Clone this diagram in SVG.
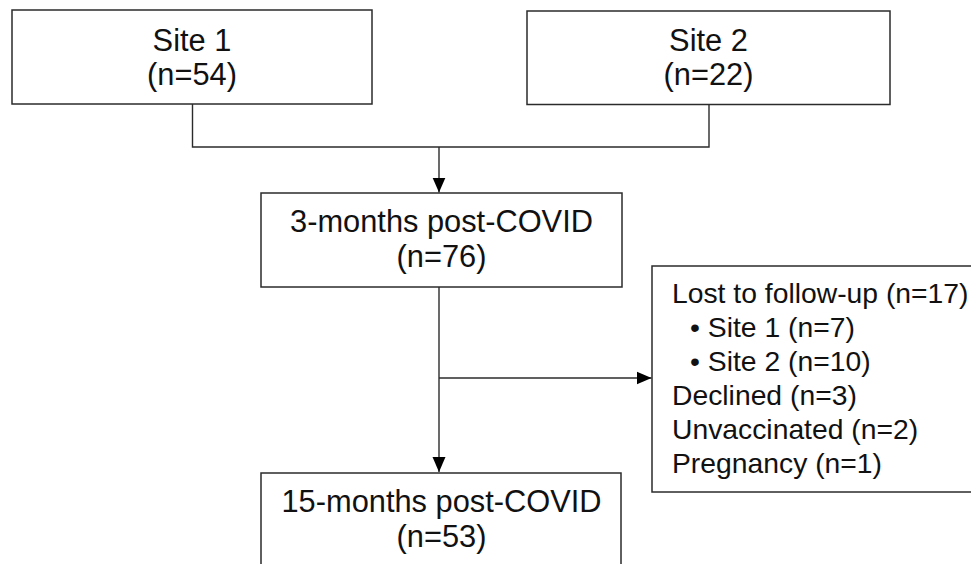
<svg xmlns="http://www.w3.org/2000/svg" width="971" height="564" viewBox="0 0 971 564">
<style>
.box{fill:#fff;stroke:#2b2b2b;stroke-width:1.5}
.t{font-family:"Liberation Sans",Arial,sans-serif;font-size:30.8px;fill:#111;text-anchor:middle}
.s{font-family:"Liberation Sans",Arial,sans-serif;font-size:28.3px;fill:#111}
.ln{fill:none;stroke:#2b2b2b;stroke-width:1.4}
</style>
<defs>
<marker id="ah" markerUnits="userSpaceOnUse" markerWidth="16" markerHeight="14" refX="15" refY="7" orient="auto">
<path d="M0,0.5 L15,7 L0,13.5 Z" fill="#000"/>
</marker>
</defs>
<rect width="971" height="564" fill="#fff"/>
<g id="connectors">
<path class="ln" d="M192.5,104 V147 H709 V104"/>
<path class="ln" d="M439,147 V192.5" marker-end="url(#ah)"/>
<path class="ln" d="M439,287 V472" marker-end="url(#ah)"/>
<path class="ln" d="M439,378 H651.5" marker-end="url(#ah)"/>
</g>
<g id="site1">
<rect class="box" x="12" y="10" width="360" height="94"/>
<text class="t" x="192" y="51">Site 1</text>
<text class="t" x="192" y="85">(n=54)</text>
</g>
<g id="site2">
<rect class="box" x="527" y="11" width="363" height="93.5"/>
<text class="t" x="708.5" y="51">Site 2</text>
<text class="t" x="708.5" y="85">(n=22)</text>
</g>
<g id="m3">
<rect class="box" x="261" y="193" width="361" height="94"/>
<text class="t" x="441.5" y="232">3-months post-COVID</text>
<text class="t" x="441.5" y="267">(n=76)</text>
</g>
<g id="excluded">
<rect class="box" x="652" y="266" width="330" height="226"/>
<text class="s" x="672" y="303">Lost to follow-up (n=17)</text>
<text class="s" x="690" y="337">• Site 1 (n=7)</text>
<text class="s" x="690" y="371">• Site 2 (n=10)</text>
<text class="s" x="672" y="405">Declined (n=3)</text>
<text class="s" x="672" y="439">Unvaccinated (n=2)</text>
<text class="s" x="672" y="473">Pregnancy (n=1)</text>
</g>
<g id="m15">
<rect class="box" x="261" y="473" width="360" height="110"/>
<text class="t" x="441.5" y="512">15-months post-COVID</text>
<text class="t" x="441.5" y="547">(n=53)</text>
</g>
</svg>
